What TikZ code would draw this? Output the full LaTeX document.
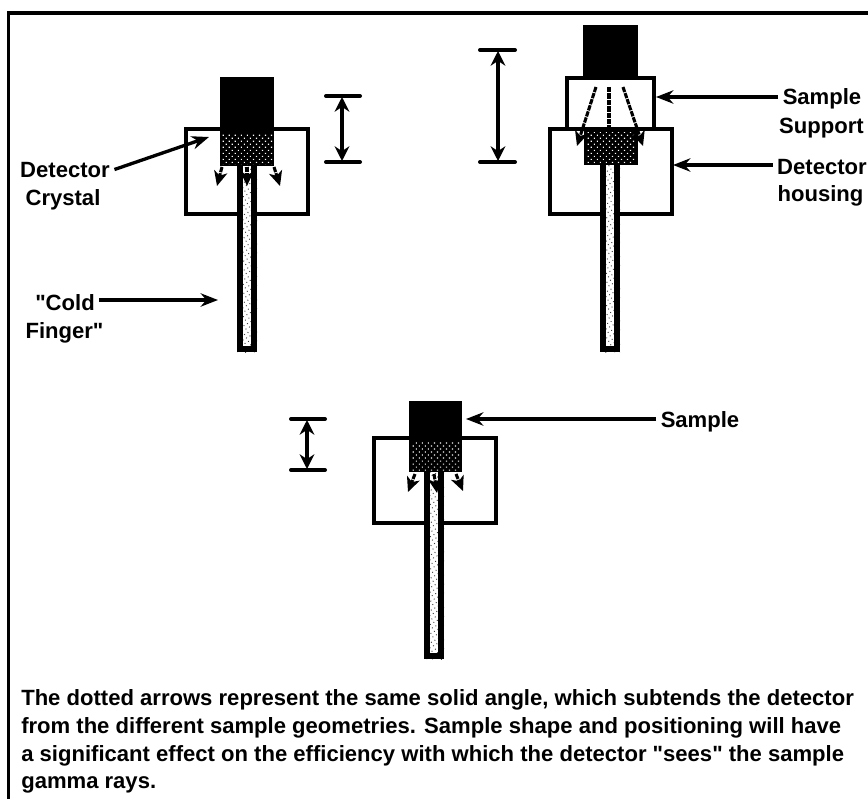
\documentclass[tikz,border=0pt]{standalone}
\usepackage{fontspec}
\setmainfont{Liberation Sans}
\usepackage{tikz}
\usetikzlibrary{arrows.meta,patterns.meta}
\tikzset{
  every node/.style={font=\fontsize{16.55}{20.8}\selectfont\bfseries},
  lbl/.style={anchor=base},
  outline/.style={line width=2.6pt},
  pointer/.style={line width=2.5pt, -{Stealth[length=13pt,width=10pt]}},
  dimline/.style={line width=3.2pt, {Stealth[length=11pt,width=11pt]}-{Stealth[length=11pt,width=11pt]}},
  dimtick/.style={line width=3pt, line cap=round},
  ray/.style={line width=2.3pt, dash pattern=on 4pt off 0.8pt, -{Stealth[length=11pt,width=10pt,inset=3pt]}},
  crystal/.style={pattern={Dots[radius=0.62pt,distance=3.2pt,angle=45]}, pattern color=white}
}
% housing box and cold finger: box x, box y, finger x, finger bottom
\newcommand{\housing}[4]{%
  \draw[outline] (#1,#2) rectangle ++(122,85);
  \fill[white] (#3,#2+30) rectangle ++(20,#4-#2-30);
  \fill[pattern={Dots[radius=0.5pt,distance=3pt,angle=30]}, pattern color=black!75] (#3,#2+30) rectangle ++(20,#4-#2-30);
  \draw[line width=4.4pt, line join=miter] (#3+3,#2+30) -- (#3+3,#4-3) -- ++(14,0) -- ++(0,#2+33-#4);
}
\begin{document}
\begin{tikzpicture}[x=0.75pt, y=-0.75pt]
  \useasboundingbox (0,0) rectangle (868,799);
  % Frame
  \draw[line width=2.5pt] (868,13) -- (8.5,13) -- (8.5,799);

  % Left detector
  \housing{186}{129}{237}{352}
  \fill (220,77) rectangle (274,166);
  \fill[crystal] (222,134) rectangle (272,164);
  \draw[ray] (222,167) -- (217,186);
  \draw[ray] (247,167) -- (247,186);
  \draw[ray] (274,167) -- (280,186);
  \draw[dimline] (342,97) -- (342,161);
  \draw[dimtick] (326,96) -- (360,96);
  \draw[dimtick] (326,162) -- (360,162);

  % Right detector
  \housing{550}{129}{600}{352}
  \draw[outline, fill=white] (567,78) rectangle (654,129);
  \fill (583,25) rectangle (638,78);
  \fill (584,129) rectangle (638,165);
  \fill[crystal] (587,133) rectangle (635,162);
  \draw[ray] (596,87) -- (577,146);
  \draw[ray, -] (609,87) -- (609,129);
  \draw[ray] (623,87) -- (643,146);
  \draw[dimline] (498,51) -- (498,161);
  \draw[dimtick] (480,50) -- (515,50);
  \draw[dimtick] (480,162) -- (515,162);

  % Center detector
  \housing{374}{438}{424}{659}
  \fill (409,401) rectangle (462,472);
  \fill[crystal] (412,441) rectangle (459,470);
  \draw[ray] (415,474) -- (408,492);
  \draw[ray] (434,474) -- (437,493);
  \draw[ray] (456,474) -- (463,491);
  \draw[dimline] (307,420) -- (307,469);
  \draw[dimtick] (291,419) -- (325,419);
  \draw[dimtick] (291,470) -- (325,470);

  % Labels
  \node[lbl] (detectortext) at (65,177) {Detector};
  \node[lbl] (crystaltext) at (63,205) {Crystal};
  \coordinate (crystaltip) at (209,137);
  \draw[pointer] (detectortext.east) -- (crystaltip);

  \node[lbl] (coldtext) at (65,310) {\textquotedbl Cold};
  \node[lbl] (fingertext) at (64.5,338) {Finger\textquotedbl};
  \coordinate (coldtip) at (218,300);
  \draw[pointer] (coldtext.east |- coldtip) -- (coldtip);

  \node[lbl] (sampletext) at (822,105) {Sample};
  \node[lbl] (supporttext) at (821.5,133) {Support};
  \coordinate (supporttip) at (656,97);
  \draw[pointer] (sampletext.west |- supporttip) -- (supporttip);

  \node[lbl] (housingtext) at (822,174) {Detector};
  \node[lbl] (housingtwo) at (820.5,201) {housing};
  \coordinate (housingtip) at (673,165);
  \draw[pointer] (housingtext.west |- housingtip) -- (housingtip);

  \node[lbl] (centertext) at (700,427) {Sample};
  \coordinate (centertip) at (466,419);
  \draw[pointer] (centertext.west |- centertip) -- (centertip);

  % Caption
  \node[anchor=north west, align=left, inner sep=0pt] (caption) at (21,689.5) {The dotted arrows represent the same solid angle, which subtends the detector\\
    from the different sample geometries. Sample shape and positioning will have\\
    a significant effect on the efficiency with which the detector \textquotedbl sees\textquotedbl{} the sample\\
    gamma rays.};
\end{tikzpicture}
\end{document}
